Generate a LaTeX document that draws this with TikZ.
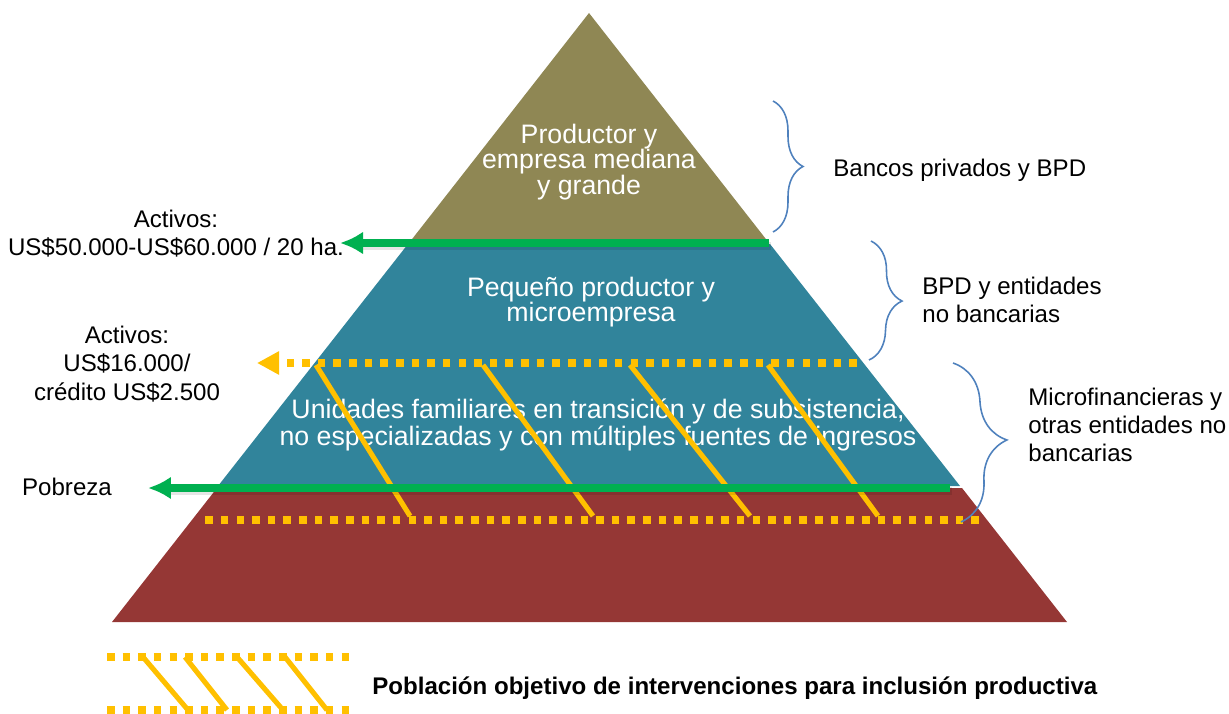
\documentclass[tikz,border=0pt]{standalone}
\usepackage{fontspec}
\setmainfont{Liberation Sans}
\usetikzlibrary{positioning,arrows.meta,decorations.pathreplacing}
\usepackage{xcolor}

\definecolor{olivebrown}{RGB}{143,135,84}
\definecolor{tealblue}{RGB}{49,132,155}
\definecolor{brickred}{RGB}{149,55,53}
\definecolor{arrowgreen}{RGB}{0,176,80}
\definecolor{dotyellow}{RGB}{255,192,0}
\definecolor{braceblue}{RGB}{79,129,189}

\begin{document}
\begin{tikzpicture}[x=0.02cm, y=-0.02cm, >=Latex, every node/.style={font=\fontsize{13.7}{16}\selectfont, inner sep=0pt}]
\tikzstyle{inner}=[text=white, align=center, font=\fontsize{15.2}{14.3}\selectfont]
\tikzstyle{greenarrow}=[draw=arrowgreen, line width=4pt, -{Latex[length=0.46cm, width=0.46cm]}]
\tikzstyle{gshadow}=[draw=black, opacity=0.1, line width=4.5pt]
\tikzstyle{dotline}=[draw=dotyellow, line width=4.3pt, dash pattern=on 4.3pt off 4.6pt]
\tikzstyle{hatch}=[draw=dotyellow, line width=2.9pt]
\tikzstyle{bluebrace}=[draw=braceblue, line width=0.9pt, decorate]

\useasboundingbox (0,0) rectangle (1229,713);

% Pyramid layers
\fill[brickred] (217,488) -- (962,488) -- (1067,622) -- (112,622) -- cycle;
\fill[tealblue] (408,244) -- (770,244) -- (960,486) -- (218,486) -- cycle;
\fill[olivebrown] (589,13) -- (769,243) -- (409,243) -- cycle;

% Texts inside the pyramid
\node[inner] (top) at (589,162) {Productor y\\empresa mediana\\y grande};
\node[inner] (mid) at (591,302) {Pequeño productor y\\microempresa};
\node[inner] (low) at (598,425) {Unidades familiares en transición y de subsistencia,\\no especializadas y con múltiples fuentes de ingresos};

% Target population hatch
\draw[dotline, -{Triangle[length=0.44cm, width=0.44cm]}] (857,363) -- (257,363);
\draw[dotline] (979,520) -- (204,520);
\foreach \a/\b in {316/410, 483/593, 630/750, 768/878}
  \draw[hatch] (\a,365) -- (\b,516);

% Thresholds
\coordinate (g1r) at (769,243);
\coordinate (g1l) at (340,243);
\coordinate (g2r) at (950,488);
\coordinate (g2l) at (148,488);
\draw[gshadow] ([shift={(2,3)}]g1r) -- ([shift={(20,3)}]g1l);
\draw[gshadow] ([shift={(2,3)}]g2r) -- ([shift={(20,3)}]g2l);
\draw[greenarrow] (g1r) -- (g1l);
\draw[greenarrow] (g2r) -- (g2l);

\node[align=center] (activos1) at (176,234) {Activos:\\US\$50.000-US\$60.000 / 20 ha.};
\node[align=center] (activos2) at (127,364) {Activos:\\US\$16.000/\\crédito US\$2.500};
\node (pobreza) at (67,487) {Pobreza};

% Braces and financial actors
\draw[bluebrace, decoration={brace, amplitude=0.6cm}] (773,101) -- (773,232);
\draw[bluebrace, decoration={brace, amplitude=0.64cm}] (871,241) -- (869,360);
\draw[bluebrace, decoration={brace, amplitude=1.0cm}] (953,363) -- (961,522);

\node[anchor=west] (bancos) at (833,170) {Bancos privados y BPD};
\node[anchor=west, align=left] (bpd) at (922,300) {BPD y entidades\\no bancarias};
\node[anchor=west, align=left] (micro) at (1028,425) {Microfinancieras y\\otras entidades no\\bancarias};

% Legend
\draw[dotline] (107,657) -- (352,657);
\draw[dotline] (107,710) -- (352,710);
\foreach \a/\b in {143/188, 185/227, 237/283, 285/327}
  \draw[hatch] (\a,657) -- (\b,710);
\node[anchor=west, font=\fontsize{13.7}{16}\selectfont\bfseries] (legend) at (372,688) {Población objetivo de intervenciones para inclusión productiva};
\end{tikzpicture}
\end{document}
